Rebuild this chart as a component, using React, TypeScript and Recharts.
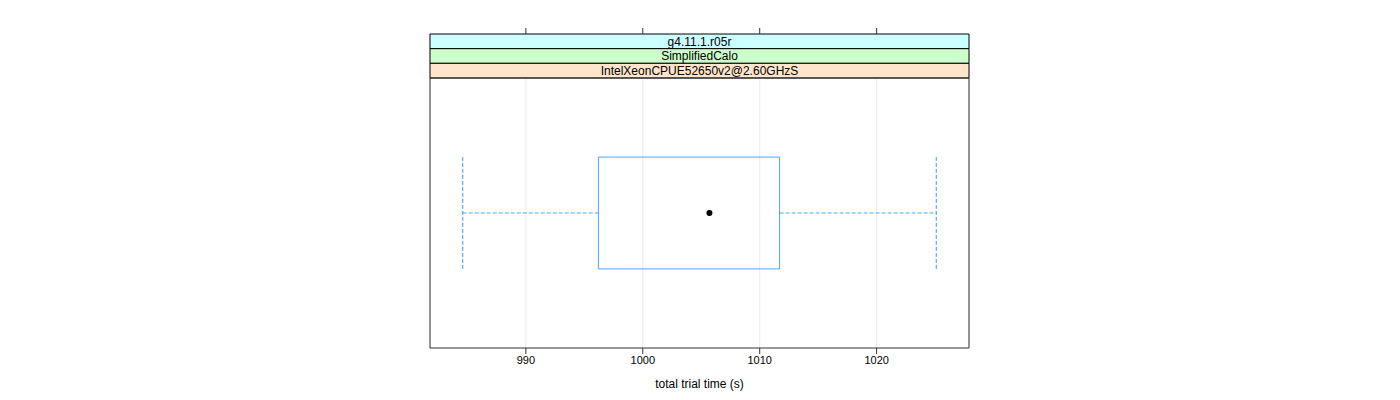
import React from 'react';
import {
    ComposedChart,
    XAxis,
    YAxis,
    CartesianGrid,
    ReferenceArea,
    ReferenceLine,
    Scatter
} from 'recharts';

// box-and-whisker summary (seconds)
const whiskerLow = 984.6;
const boxLow = 996.2;
const median = 1005.7;
const boxHigh = 1011.7;
const whiskerHigh = 1025.1;

const xTicks = [990, 1000, 1010, 1020];
const xDomain: [number, number] = [981.8, 1027.9];

// strip labels, top to bottom
const stripLabels = ['g4.11.1.r05r', 'SimplifiedCalo', 'IntelXeonCPUE52650v2@2.60GHzS'];
const stripColors = ['#ccffff', '#ccffcc', '#ffe5cc'];

const medianPoint = [{ x: median, y: 0.5 }];

// panel occupies y in [0, 1]; the strips sit above it
const stripStep = 0.0543;
const yTop = 1 + stripStep * stripLabels.length;

const boxColor = '#0080ff';

export default function App() {
    return (
        <div style={{ position: 'absolute', left: 0, top: 0, fontFamily: '"Liberation Sans", Arial, sans-serif', background: '#fff' }}>
            <ComposedChart
                width={1400}
                height={400}
                data={medianPoint}
                margin={{ top: 28, right: 431, left: 430, bottom: 0 }}
            >
                <CartesianGrid vertical={true} horizontal={false} stroke="#ebebeb" xAxisId="bottom" />
                <XAxis
                    xAxisId="bottom"
                    dataKey="x"
                    type="number"
                    domain={xDomain}
                    ticks={xTicks}
                    allowDataOverflow
                    axisLine={false}
                    tickLine={{ stroke: '#333' }}
                    tickSize={6}
                    tick={{ fill: '#000', fontSize: 11 }}
                    height={52}
                    label={{ value: 'total trial time (s)', position: 'insideBottom', offset: 12, fill: '#000', fontSize: 12 }}
                />
                {/* top tick marks only, no labels */}
                <XAxis
                    xAxisId="top"
                    orientation="top"
                    dataKey="x"
                    type="number"
                    domain={xDomain}
                    ticks={xTicks}
                    allowDataOverflow
                    axisLine={false}
                    tickLine={{ stroke: '#333' }}
                    tickSize={6}
                    tick={{ fill: 'none', fontSize: 1 }}
                    tickFormatter={() => ''}
                    height={6}
                />
                <YAxis yAxisId="y" type="number" domain={[0, yTop]} allowDataOverflow hide />

                {/* strips */}
                {stripLabels.map((s, i) => (
                    <ReferenceArea
                        key={s}
                        xAxisId="bottom"
                        yAxisId="y"
                        x1={xDomain[0]}
                        x2={xDomain[1]}
                        y1={yTop - stripStep * (i + 1)}
                        y2={yTop - stripStep * i}
                        fill={stripColors[i]}
                        fillOpacity={1}
                        stroke="#000"
                        strokeWidth={1}
                        ifOverflow="visible"
                        label={{ value: s, position: 'center', fill: '#000', fontSize: 12 }}
                    />
                ))}

                {/* panel frame */}
                <ReferenceArea
                    xAxisId="bottom"
                    yAxisId="y"
                    x1={xDomain[0]}
                    x2={xDomain[1]}
                    y1={0}
                    y2={1}
                    fill="none"
                    stroke="#333"
                    strokeWidth={1}
                    ifOverflow="visible"
                />

                {/* whiskers */}
                <ReferenceLine xAxisId="bottom" yAxisId="y" segment={[{ x: whiskerLow, y: 0.5 }, { x: boxLow, y: 0.5 }]} stroke={boxColor} strokeDasharray="4 2" strokeOpacity={0.7} />
                <ReferenceLine xAxisId="bottom" yAxisId="y" segment={[{ x: boxHigh, y: 0.5 }, { x: whiskerHigh, y: 0.5 }]} stroke={boxColor} strokeDasharray="4 2" strokeOpacity={0.7} />
                <ReferenceLine xAxisId="bottom" yAxisId="y" segment={[{ x: whiskerLow, y: 0.293 }, { x: whiskerLow, y: 0.707 }]} stroke={boxColor} strokeDasharray="4 2" strokeOpacity={0.8} />
                <ReferenceLine xAxisId="bottom" yAxisId="y" segment={[{ x: whiskerHigh, y: 0.293 }, { x: whiskerHigh, y: 0.707 }]} stroke={boxColor} strokeDasharray="4 2" strokeOpacity={0.8} />

                {/* box */}
                <ReferenceArea
                    xAxisId="bottom"
                    yAxisId="y"
                    x1={boxLow}
                    x2={boxHigh}
                    y1={0.293}
                    y2={0.707}
                    fill="none"
                    stroke={boxColor}
                    strokeOpacity={0.7}
                    strokeWidth={1}
                />

                {/* median dot */}
                <Scatter
                    xAxisId="bottom"
                    yAxisId="y"
                    data={medianPoint}
                    dataKey="y"
                    fill="#000"
                    isAnimationActive={false}
                    shape={(p: any) => <circle cx={p.cx} cy={p.cy} r={3} fill="#000" />}
                />
            </ComposedChart>
        </div>
    );
}
